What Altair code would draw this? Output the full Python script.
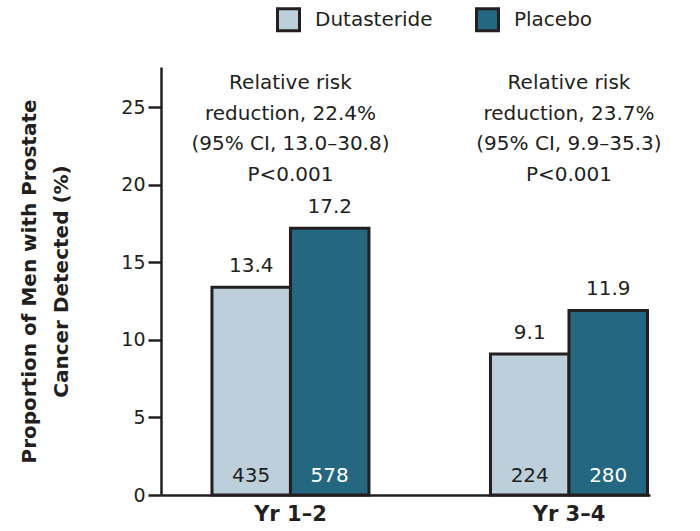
import altair as alt
import pandas as pd

# Study periods and treatment arms
periods = ["Yr 1\u20132", "Yr 3\u20134"]
groups = ["Dutasteride", "Placebo"]

# Proportion of men with prostate cancer detected (%)
dutasteride_pct = [13.4, 9.1]
placebo_pct = [17.2, 11.9]

# Number of men with cancer detected
dutasteride_n = [435, 224]
placebo_n = [578, 280]

# Relative risk reduction notes above each period
notes = [
    ["Relative risk", "reduction, 22.4%", "(95% CI, 13.0\u201330.8)", "P<0.001"],
    ["Relative risk", "reduction, 23.7%", "(95% CI, 9.9\u201335.3)", "P<0.001"],
]

y_ticks = [0, 5, 10, 15, 20, 25]

INK = "#231f20"
LIGHT = "#bccfda"
DARK = "#246781"
FONT = "DejaVu Sans"

rows = []
for i, p in enumerate(periods):
    rows.append({"period": p, "group": groups[0], "pct": dutasteride_pct[i], "n": dutasteride_n[i]})
    rows.append({"period": p, "group": groups[1], "pct": placebo_pct[i], "n": placebo_n[i]})
df = pd.DataFrame(rows)

notes_df = pd.DataFrame({"period": periods, "note": notes})

x_scale = alt.Scale(domain=periods, paddingInner=0.4363, paddingOuter=0.096, align=0.953)
y_scale = alt.Scale(domain=[0, 27.6], nice=False, zero=True)

x_enc = alt.X(
    "period:N",
    scale=x_scale,
    sort=periods,
    axis=alt.Axis(
        title=None,
        ticks=False,
        labelAngle=0,
        labelFontSize=21,
        labelFontWeight="bold",
        labelPadding=8,
        labelColor=INK,
        labelFont=FONT,
        domainColor=INK,
        domainWidth=2.5,
    ),
)
xoff = alt.XOffset("group:N", scale=alt.Scale(domain=groups, paddingInner=0, paddingOuter=0))

y_enc = alt.Y(
    "pct:Q",
    scale=y_scale,
    axis=alt.Axis(
        values=y_ticks,
        grid=False,
        tickSize=13,
        tickWidth=2.5,
        tickColor=INK,
        domainColor=INK,
        domainWidth=2.5,
        labelFontSize=19,
        labelColor=INK,
        labelFont=FONT,
        labelPadding=3,
        title=["Proportion of Men with Prostate", "Cancer Detected (%)"],
        titleFont=FONT,
        titleFontSize=20,
        titleFontWeight="bold",
        titleColor=INK,
        titleAngle=-90,
        titleBaseline="alphabetic",
        titleAlign="center",
        titleLineHeight=32,
        titleX=-126,
        titleY=214,
    ),
)

base = alt.Chart(df).encode(x=x_enc, xOffset=xoff)

bars = base.mark_bar(stroke=INK, strokeWidth=3).encode(
    y=y_enc,
    color=alt.Color(
        "group:N",
        scale=alt.Scale(domain=groups, range=[LIGHT, DARK]),
        legend=alt.Legend(
            title=None,
            orient="none",
            direction="horizontal",
            legendX=115,
            legendY=-60,
            symbolType="square",
            symbolSize=484,
            symbolStrokeColor=INK,
            symbolStrokeWidth=3,
            symbolOpacity=1,
            labelFontSize=20,
            labelFont=FONT,
            labelColor=INK,
            labelOffset=14,
            columnPadding=37,
            padding=0,
        ),
    ),
)

values = base.mark_text(fontSize=20, font=FONT, color=INK, baseline="alphabetic", dy=-15).encode(
    y=alt.Y("pct:Q", scale=y_scale),
    text=alt.Text("pct:Q", format=".1f"),
)

counts = base.mark_text(fontSize=20, font=FONT, baseline="alphabetic", dy=-13).encode(
    y=alt.datum(0),
    text=alt.Text("n:Q"),
    fill=alt.Fill("group:N", scale=alt.Scale(domain=groups, range=[INK, "#ffffff"]), legend=None),
)

annotations = alt.Chart(notes_df).mark_text(
    fontSize=20, font=FONT, color=INK, baseline="alphabetic", lineHeight=30.5, align="center"
).encode(
    x=alt.X("period:N", scale=x_scale, sort=periods),
    y=alt.datum(26.17),
    text="note",
)

chart = (
    alt.layer(bars, values, counts, annotations)
    .properties(
        width=489,
        height=428,
        autosize=alt.AutoSizeParams(type="none"),
        padding={"left": 161, "top": 67, "right": 50, "bottom": 36},
        background="white",
    )
    .configure_view(stroke=None)
)

chart.save("out.html", embed_options={"renderer": "svg", "actions": False})
